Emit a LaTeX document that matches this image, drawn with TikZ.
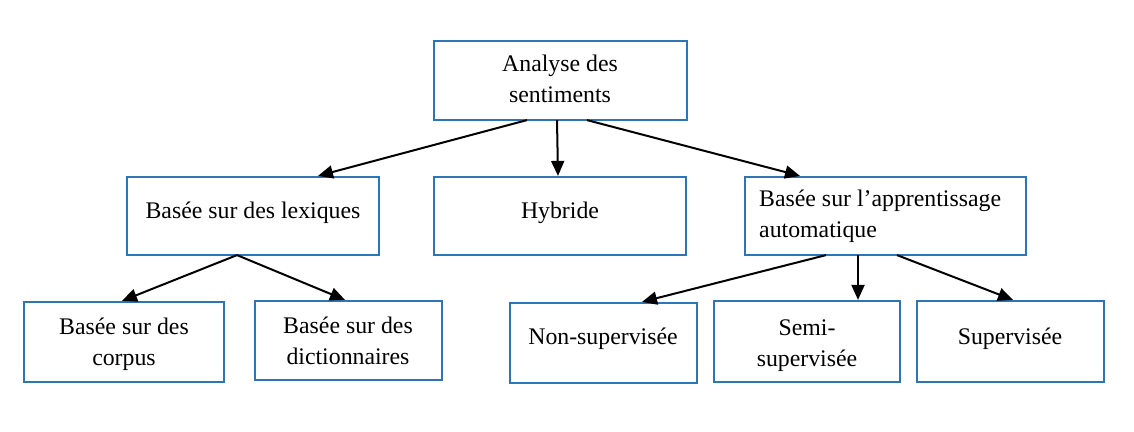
\documentclass[tikz,border=0pt]{standalone}
\usepackage{fontspec}
\setmainfont{Liberation Serif}
\usetikzlibrary{arrows.meta}
\definecolor{boxblue}{HTML}{2E75B6}
\begin{document}
\begin{tikzpicture}[x=1pt,y=-1pt,
  box/.style={draw=boxblue,line width=2.2pt,inner sep=0pt},
  lbl/.style={font=\fontsize{23.8}{31}\selectfont,align=center,inner sep=0pt},
  arr/.style={line width=2pt,-{Triangle[length=15pt,width=13pt]}}]
\useasboundingbox (0,0) rectangle (1134,431);
% boxes
\node[box,minimum width=253pt,minimum height=79pt] (top) at (560.5,80.5) {};
\node[box,minimum width=252pt,minimum height=78pt] (lex) at (253,216) {};
\node[box,minimum width=252pt,minimum height=78pt] (hyb) at (560,216) {};
\node[box,minimum width=281pt,minimum height=78pt] (app) at (885.5,216) {};
\node[box,minimum width=200pt,minimum height=80pt] (corp) at (124,342) {};
\node[box,minimum width=187pt,minimum height=79pt] (dict) at (348.5,340.5) {};
\node[box,minimum width=187pt,minimum height=80pt] (non) at (603.5,343) {};
\node[box,minimum width=186pt,minimum height=81pt] (semi) at (807,341.5) {};
\node[box,minimum width=187pt,minimum height=81pt] (sup) at (1010.5,341.5) {};
% texts
\node[lbl] (ttop) at (560,79) {Analyse des\\sentiments};
\node[lbl] (tlex) at (253,213) {Basée sur des lexiques};
\node[lbl] (thyb) at (560,213) {Hybride};
\node[lbl,align=left,anchor=west] (tapp) at (759,216) {Basée sur l’apprentissage\\automatique};
\node[lbl] (tcorp) at (124,344) {Basée sur des\\corpus};
\node[lbl] (tdict) at (348,340.5) {Basée sur des\\dictionnaires};
\node[lbl] (tnon) at (603,339) {Non-supervisée};
\node[lbl] (tsemi) at (807,346) {Semi-\\supervisée};
\node[lbl] (tsup) at (1010,339) {Supervisée};
% arrows
\draw[arr] ([xshift=-33.5pt,yshift=1pt]top.south) -- ([xshift=65pt]lex.north);
\draw[arr] ([xshift=-3.5pt,yshift=1pt]top.south) -- ([xshift=-2pt]hyb.north);
\draw[arr] ([xshift=26.5pt,yshift=1pt]top.south) -- ([xshift=-85.5pt]app.north);
\draw[arr] ([xshift=-16pt,yshift=1pt]lex.south) -- ([xshift=-2pt]corp.north);
\draw[arr] ([xshift=-16pt,yshift=1pt]lex.south) -- ([xshift=-3.5pt]dict.north);
\draw[arr] ([xshift=-59.5pt,yshift=1pt]app.south) -- ([xshift=38.5pt]non.north);
\draw[arr] ([xshift=-27.5pt,yshift=1pt]app.south) -- ([xshift=51pt]semi.north);
\draw[arr] ([xshift=11.5pt,yshift=1pt]app.south) -- ([xshift=2.5pt]sup.north);
\end{tikzpicture}
\end{document}
